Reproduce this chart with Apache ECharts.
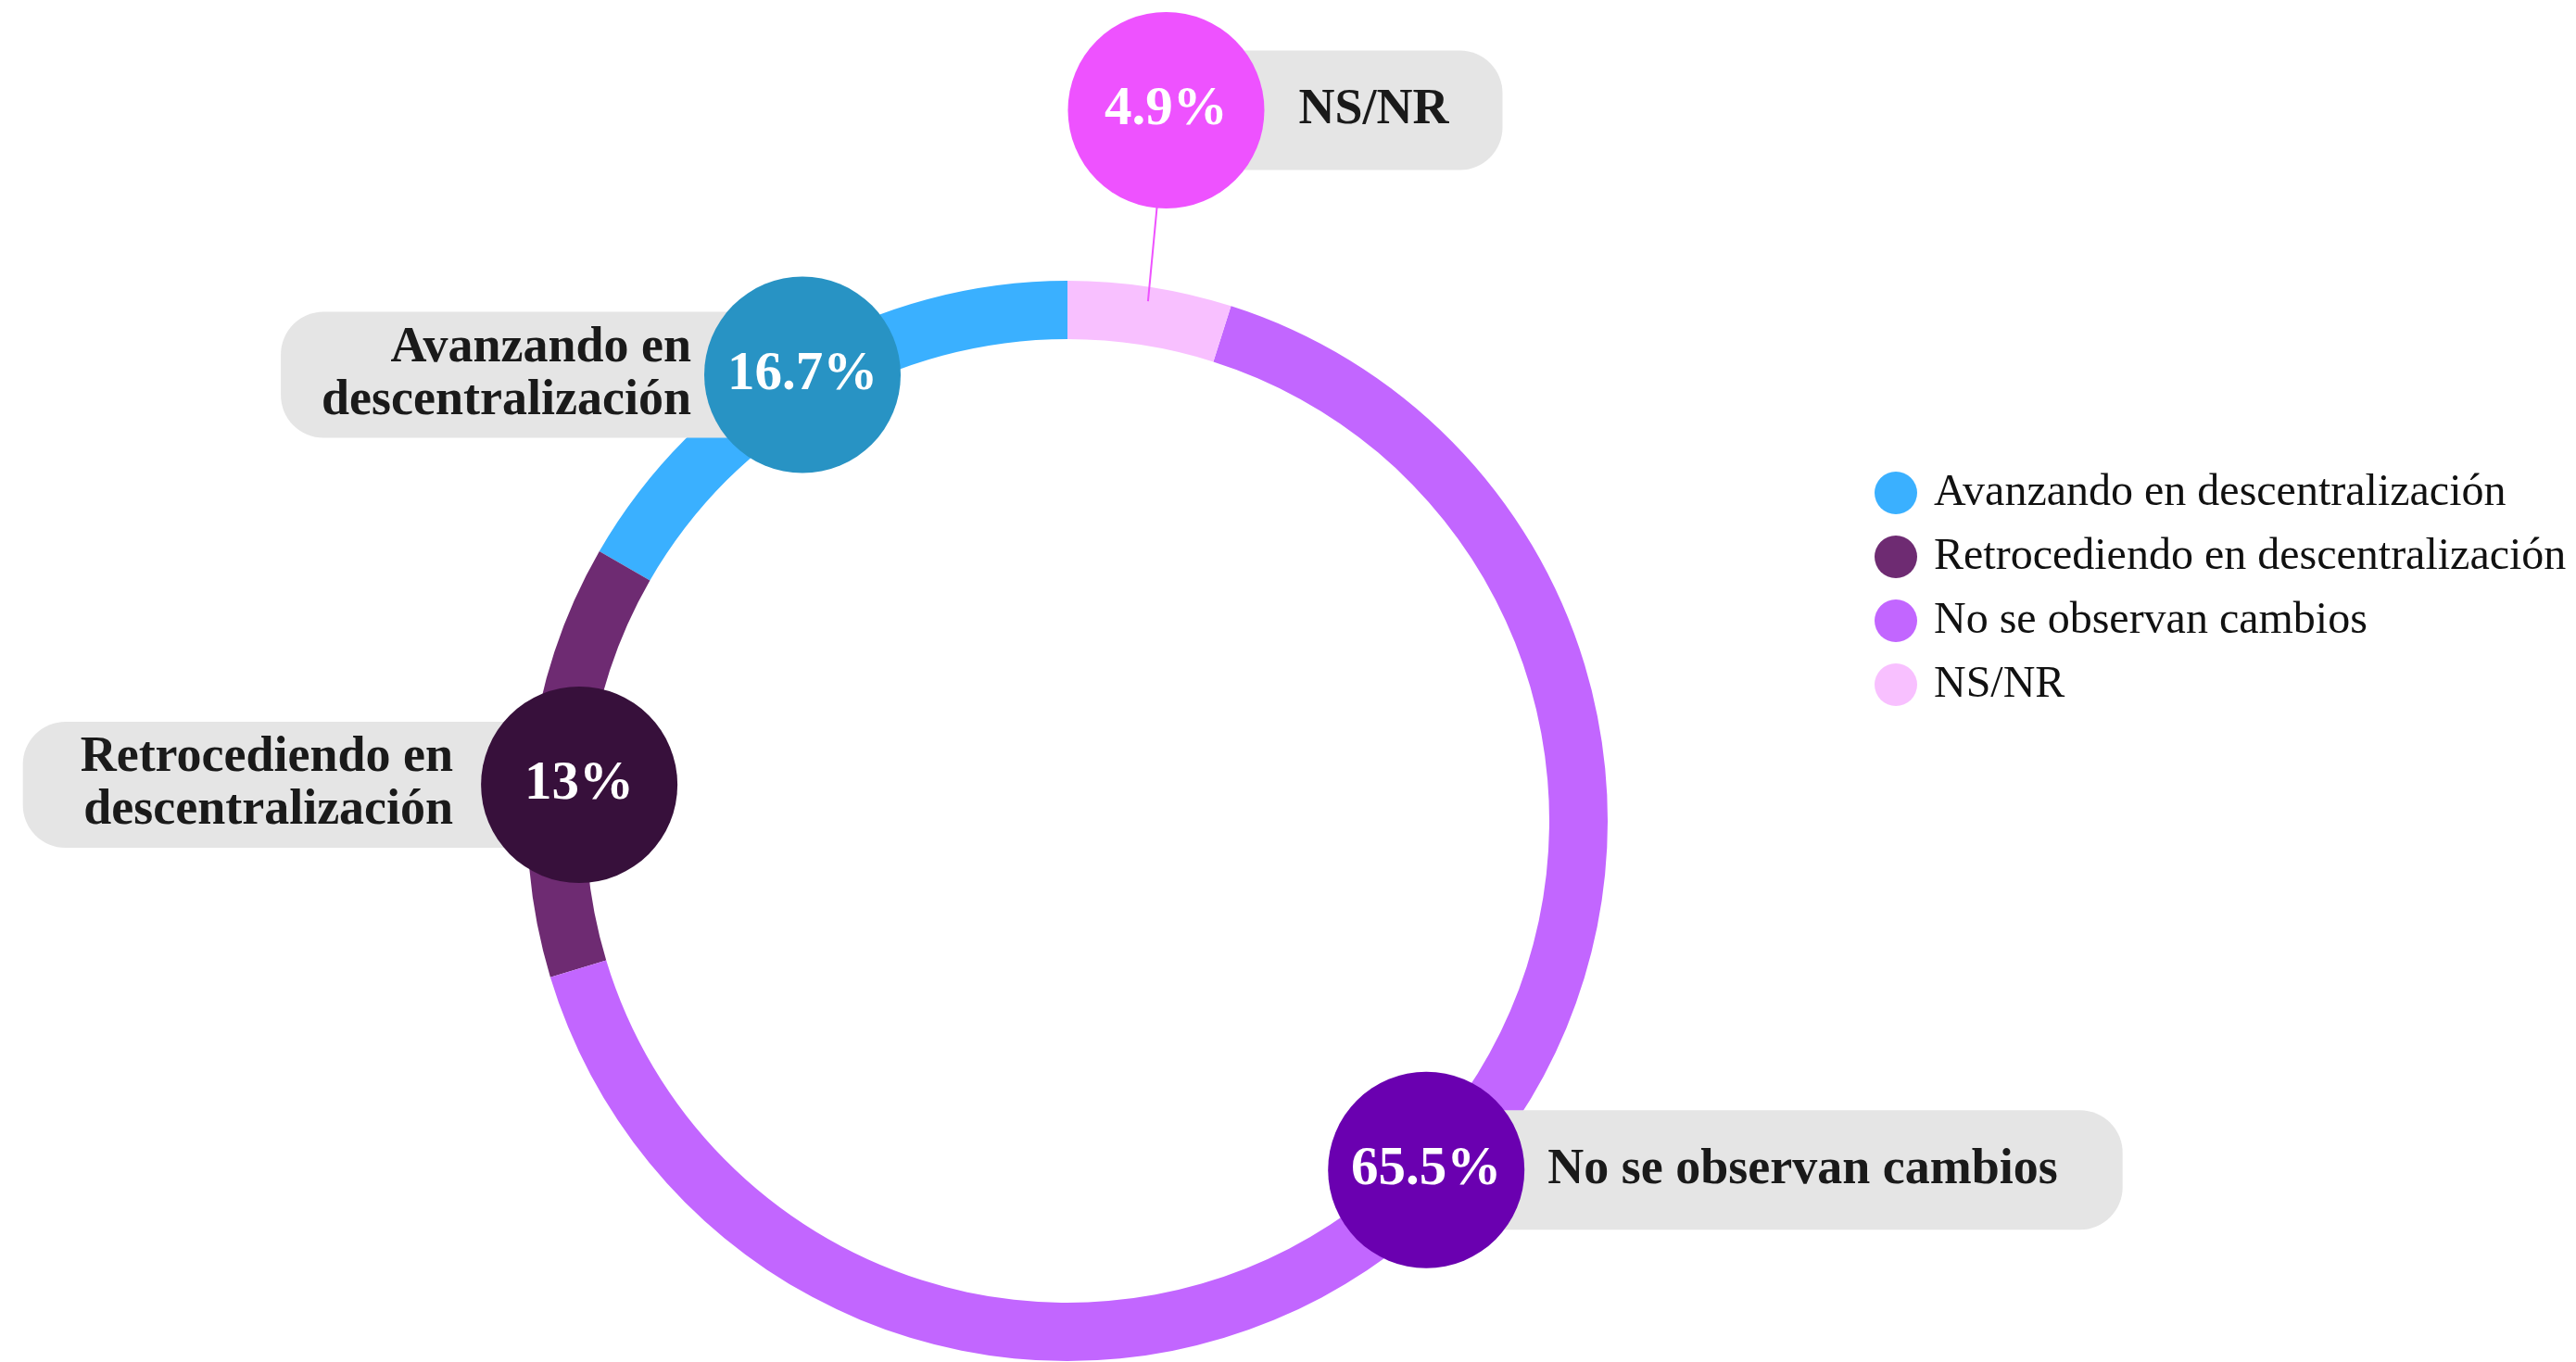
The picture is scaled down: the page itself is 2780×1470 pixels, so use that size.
<!DOCTYPE html>
<html>
<head>
<meta charset="utf-8">
<script src="https://cdn.jsdelivr.net/npm/echarts@6/dist/echarts.min.js"></script>
<style>
  html, body { margin: 0; padding: 0; background: #fff; }
  #chart { width: 2780px; height: 1470px; }
</style>
</head>
<body>
<div id="chart"></div>
<script>
// 数据
const categories = ['Avanzando en descentralización', 'Retrocediendo en descentralización', 'No se observan cambios', 'NS/NR'];
const boxLabels = ['Avanzando en\ndescentralización', 'Retrocediendo en\ndescentralización', 'No se observan cambios', 'NS/NR'];
const values = [16.7, 13, 65.5, 4.9];

// 样式
const ringColors = ['#3AB0FF', '#6E2B72', '#C266FF', '#F8C0FF'];
const bubbleColors = ['#2893C4', '#37103B', '#6A00B0', '#EE52FF'];
const FONT = "'Liberation Serif', 'DejaVu Serif', serif";
const CX = 1152, CY = 886, R_IN = 520, R_OUT = 583;
const R_MID = (R_IN + R_OUT) / 2;
// 气泡相对环中线的偏移
const nudge = [[-10, -4], [21, 24], [0, -16], [22, -222]];
// 名称框内边距 [上, 右, 下, 左]
const boxPadding = [[11, 120, 11, 44], [11, 136, 11, 62], [36, 70, 36, 131], [36, 58, 36, 143]];

// 从引导线起点（外圆上的中间角）求气泡位置
function anchorOf(p) {
  const pts = p.labelLinePoints;
  let ux = 0, uy = -1;
  if (pts && pts[0]) {
    const dx = pts[0][0] - CX, dy = pts[0][1] - CY;
    const l = Math.hypot(dx, dy) || 1;
    ux = dx / l; uy = dy / l;
  }
  const n = nudge[p.dataIndex] || [0, 0];
  return { ux, uy, x: CX + ux * R_MID + n[0], y: CY + uy * R_MID + n[1] };
}

const chart = echarts.init(document.getElementById('chart'));

const ringData = categories.map((name, i) => ({
  name,
  value: values[i],
  itemStyle: { color: ringColors[i] },
  label: { formatter: boxLabels[i], padding: boxPadding[i] }
}));

const bubbleData = categories.map((name, i) => ({
  name,
  value: values[i],
  itemStyle: { color: 'rgba(0,0,0,0)' },
  label: { backgroundColor: bubbleColors[i] },
  labelLine: i === 3 ? {} : { lineStyle: { opacity: 0 } }
}));

const option = {
  backgroundColor: '#fff',
  animation: false,
  legend: {
    orient: 'vertical',
    left: 2023,
    top: 508,
    padding: 0,
    itemWidth: 46,
    itemHeight: 46,
    itemGap: 21,
    icon: 'circle',
    selectedMode: false,
    data: categories,
    textStyle: {
      fontFamily: FONT,
      fontSize: 48,
      lineHeight: 46,
      color: '#111',
      padding: [0, 0, 0, 13]
    }
  },
  series: [
    {
      type: 'pie',
      z: 2,
      center: [CX, CY],
      radius: [R_IN, R_OUT],
      startAngle: 90,
      clockwise: false,
      avoidLabelOverlap: false,
      emphasis: { disabled: true },
      itemStyle: { borderWidth: 0 },
      label: {
        show: true,
        position: 'outside',
        fontFamily: FONT,
        fontWeight: 'bold',
        fontSize: 54,
        lineHeight: 57,
        color: '#1a1a1a',
        backgroundColor: '#E5E5E5',
        borderRadius: 46
      },
      labelLine: { show: true, lineStyle: { opacity: 0 } },
      labelLayout: function (p) {
        const a = anchorOf(p);
        return {
          x: a.x,
          y: a.y,
          align: a.x < CX ? 'right' : 'left',
          verticalAlign: 'middle'
        };
      },
      data: ringData
    },
    {
      type: 'pie',
      z: 3,
      silent: true,
      legendHoverLink: false,
      center: [CX, CY],
      radius: [R_IN, R_OUT],
      startAngle: 90,
      clockwise: false,
      avoidLabelOverlap: false,
      emphasis: { disabled: true },
      label: {
        show: true,
        position: 'outside',
        formatter: '{c}%',
        fontFamily: FONT,
        fontWeight: 'bold',
        fontSize: 59,
        color: '#fff',
        width: 212,
        lineHeight: 212,
        align: 'center',
        borderRadius: 106
      },
      labelLine: { show: true, lineStyle: { color: '#EE52FF', width: 2 } },
      labelLayout: function (p) {
        const a = anchorOf(p);
        const out = { x: a.x, y: a.y, align: 'center', verticalAlign: 'middle' };
        if (p.dataIndex === 3) {
          const sx = CX + a.ux * (R_MID + 16), sy = CY + a.uy * (R_MID + 16);
          const dx = sx - a.x, dy = sy - a.y, l = Math.hypot(dx, dy) || 1;
          out.labelLinePoints = [[sx, sy], [a.x + dx / l * 100, a.y + dy / l * 100]];
        }
        return out;
      },
      data: bubbleData
    }
  ]
};

chart.setOption(option);
</script>
</body>
</html>
